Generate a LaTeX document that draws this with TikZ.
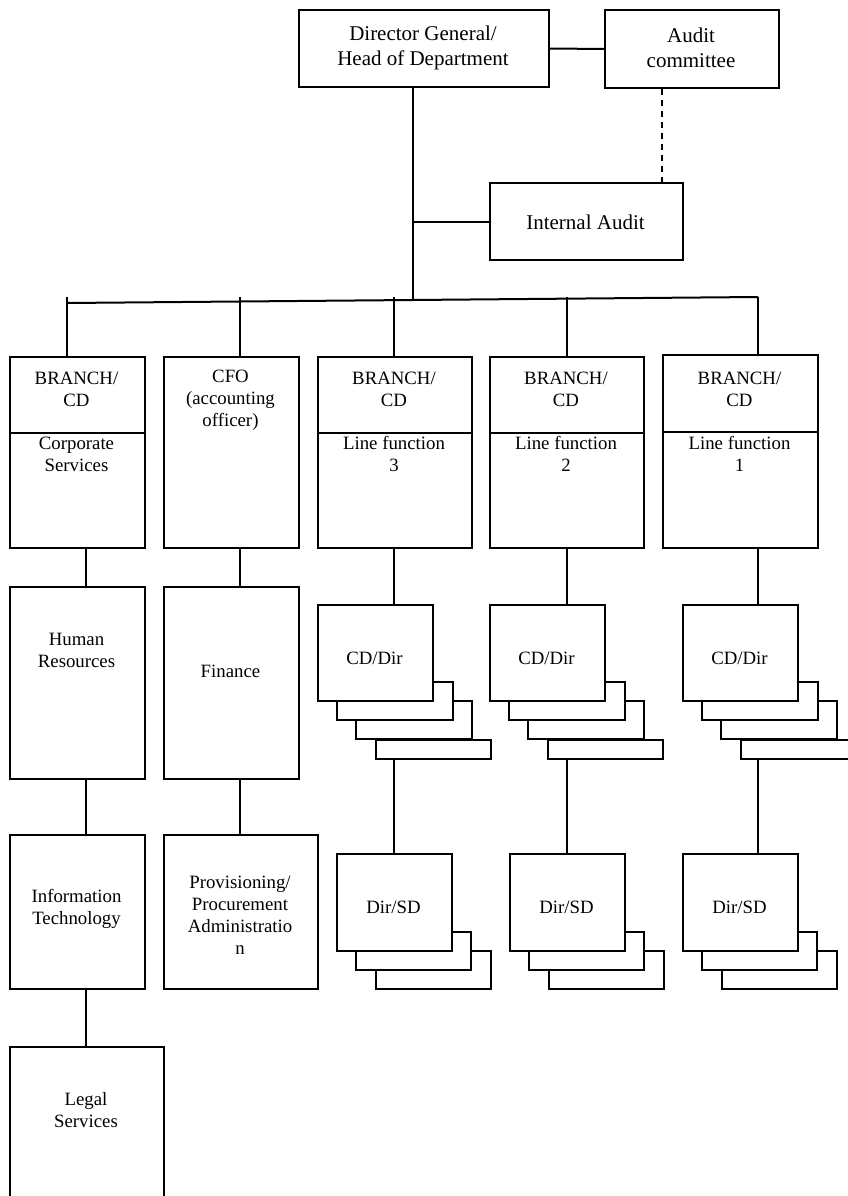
\documentclass[tikz,border=0pt]{standalone}
\usepackage{fontspec}
\setmainfont{Liberation Serif}
\begin{document}
\begin{tikzpicture}[x=1pt,y=-1pt,line width=2pt]
		\tikzstyle{box}=[draw,fill=white,shape=rectangle,inner sep=0pt,anchor=north west]
		\tikzstyle{big}=[align=center,font=\fontsize{21}{25}\selectfont]
		\tikzstyle{small}=[align=center,font=\fontsize{18.8}{22}\selectfont]

		\useasboundingbox (0,0) rectangle (848,1196);

		% top
		\node[box,minimum width=250,minimum height=77](dg) at (298,9){};
		\node[big](dgt) at (423,47.5){Director General/\\Head of Department};
		\node[box,minimum width=174,minimum height=78](ac) at (604,9){};
		\node[big](act) at (691,48){Audit\\committee};
		\node[box,minimum width=193,minimum height=77](ia) at (489,182){};
		\node[big](iat) at (585.5,222){Internal Audit};

		\coordinate(bus) at (413,299);
		\coordinate(dsh) at (662,0);
		\draw (dg.east) -- (ac.west);
		\draw[dash pattern=on 6pt off 5pt] (ac.south -| dsh) -- (ia.north -| dsh);
		\draw (dg.south -| bus) -- (bus);
		\draw (bus |- ia.west) -- (ia.west);

		% branches
		\node[box,minimum width=135,minimum height=191](cs) at (9,356){};
		\node[box,minimum width=135,minimum height=191](cfo) at (163,356){};
		\node[box,minimum width=154,minimum height=191](lf3) at (317,356){};
		\node[box,minimum width=154,minimum height=191](lf2) at (489,356){};
		\node[box,minimum width=155,minimum height=193](lf1) at (662,354){};
		\foreach \n in {cs,lf3,lf2}
			\draw ([yshift=-77pt]\n.north west) -- ([yshift=-77pt]\n.north east);
		\draw ([yshift=-78pt]lf1.north west) -- ([yshift=-78pt]lf1.north east);

		\node[small](cst) at (76.5,389){BRANCH/\\CD};
		\node[small](csn) at (76.5,454){Corporate\\Services};
		\node[small](cfot) at (230.5,400){CFO\\(accounting\\officer)};
		\foreach \n/\x/\k in {lf3/394/3,lf2/566/2,lf1/739.5/1}{
			\node[small](\n t) at (\x,389){BRANCH/\\CD};
			\node[small](\n n) at (\x,454){Line function\\\k};
		}

		\coordinate(busl) at (67,303);
		\coordinate(busr) at (758,297);
		\draw (busl) -- (busr);
		\foreach \n/\x in {cs/67,cfo/240,lf3/394,lf2/567,lf1/758}{
			\coordinate(s\n) at (\x,297);
			\draw (s\n) -- (\n.north -| s\n);
		}

		% left columns
		\node[box,minimum width=135,minimum height=192](hr) at (9,586){};
		\node[small](hrt) at (76.5,650){Human\\Resources};
		\node[box,minimum width=135,minimum height=192](fin) at (163,586){};
		\node[small](fint) at (230.5,671){Finance};
		\node[box,minimum width=135,minimum height=154](it) at (9,834){};
		\node[small](itt) at (76.5,909){Information\\Technology};
		\node[box,minimum width=154,minimum height=154](proc) at (163,834){};
		\node[small](proct) at (240,915){Provisioning/\\Procurement\\Administratio\\n};
		\node[box,minimum width=154,minimum height=170](legal) at (9,1046){};
		\node[small](legalt) at (86,1110){Legal\\Services};

		\coordinate(c1) at (86,0);
		\coordinate(c2) at (240,0);
		\draw (cs.south -| c1) -- (hr.north -| c1);
		\draw (hr.south -| c1) -- (it.north -| c1);
		\draw (it.south -| c1) -- (legal.north -| c1);
		\draw (cfo.south -| c2) -- (fin.north -| c2);
		\draw (fin.south -| c2) -- (proc.north -| c2);

		% line functions
		\foreach \n/\X/\Y/\C in {lf3/317/336/394,lf2/489/509/567,lf1/682/682/758}{
			\coordinate(x\n) at (\C,0);
			\node[box,minimum width=115,minimum height=19](cdc\n) at ({\X+58},739){};
			\node[box,minimum width=116,minimum height=38](cdb\n) at ({\X+38},700){};
			\node[box,minimum width=116,minimum height=38](cda\n) at ({\X+19},681){};
			\node[box,minimum width=115,minimum height=96](cd\n) at (\X,604){};
			\node[small](cdt\n) at ({\X+57.5},658){CD/Dir};
			\node[box,minimum width=115,minimum height=38](sdb\n) at ({\Y+39},950){};
			\node[box,minimum width=115,minimum height=38](sda\n) at ({\Y+19},931){};
			\node[box,minimum width=115,minimum height=97](sd\n) at (\Y,853){};
			\node[small](sdt\n) at ({\Y+57.5},907){Dir/SD};
			\draw (\n.south -| x\n) -- (cd\n.north -| x\n);
			\draw (cdc\n.south -| x\n) -- (sd\n.north -| x\n);
		}
	\end{tikzpicture}
\end{document}
